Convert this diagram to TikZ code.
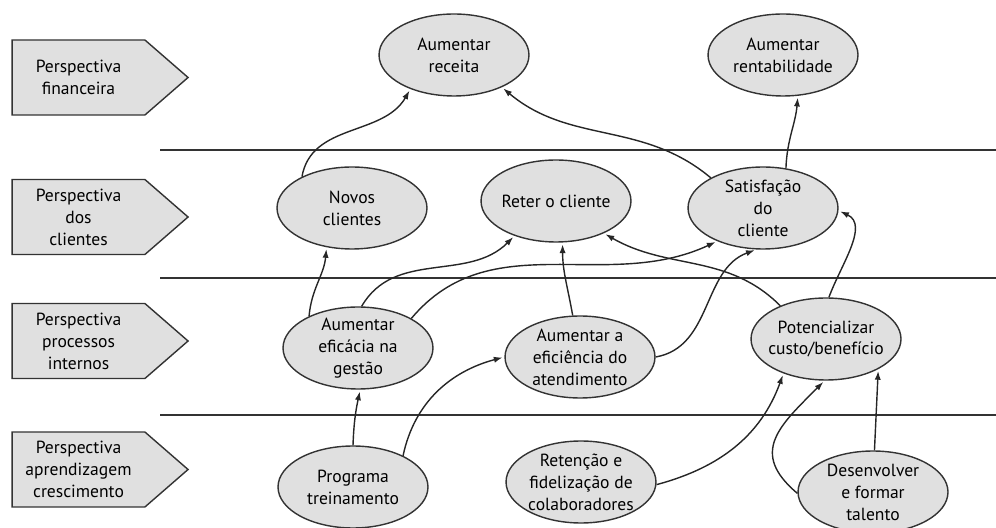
\documentclass[tikz,border=0pt]{standalone}
\usepackage{fontspec}
\setmainfont{PT Sans}
\usepackage{tikz}
\usetikzlibrary{arrows.meta,shapes.geometric,shapes.symbols}

\begin{document}
\begin{tikzpicture}[x=0.02cm,y=0.02cm,
  every node/.style={font=\fontsize{10}{12.5}\selectfont, align=center},
  persp/.style={signal, signal to=east, signal pointer angle=82, draw=black!80, fill=black!12,
    line width=0.8pt, minimum width=3.52cm, minimum height=1.5cm, inner sep=0pt},
  obj/.style={ellipse, draw=black!80, fill=black!12, line width=0.8pt,
    minimum width=3cm, minimum height=1.64cm, inner xsep=-8pt, inner ysep=-8pt},
  link/.style={-{Latex[length=5pt,width=3.5pt]}, line width=0.8pt, black!85, shorten >=1pt},
  sep/.style={line width=1pt, black!80}]
\useasboundingbox (0,0) rectangle (996,527);

\node[persp] (fin) at (78.5,449.5) {Perspectiva\\financeira};
\node[persp] (cli) at (78.5,310) {Perspectiva\\dos\\clientes};
\node[persp] (proc) at (78.5,186) {Perspectiva\\processos\\internos};
\node[persp] (apr) at (78.5,57.5) {Perspectiva\\aprendizagem\\crescimento};

\draw[sep] (160,377) -- (996,377);
\draw[sep] (160,249) -- (996,249);
\draw[sep] (160,112) -- (996,112);

\node[obj] (receita) at (454,472) {Aumentar\\receita};
\node[obj] (rentab) at (783,472) {Aumentar\\rentabilidade};
\node[obj] (novos) at (352,319) {Novos\\clientes};
\node[obj] (reter) at (556,326) {Reter o cliente};
\node[obj] (satisf) at (763,319) {Satisfação\\do\\cliente};
\node[obj] (eficacia) at (358,179) {Aumentar\\eficácia na\\gestão};
\node[obj] (eficiencia) at (580,170) {Aumentar a\\eficiência do\\atendimento};
\node[obj] (custo) at (826,188) {Potencializar\\custo/benefício};
\node[obj] (programa) at (353,40) {Programa\\treinamento};
\node[obj] (retencao) at (581,45) {Retenção e\\fidelização de\\colaboradores};
\node[obj] (talento) at (873,35) {Desenvolver\\e formar\\talento};

\draw[link] (novos.148) to[out=80,in=240] (receita.218);
\draw[link] (satisf.150) to[out=140,in=-40] (receita.326);
\draw[link] (satisf.60) to[out=88,in=265] (rentab.290);
\draw[link] (eficacia.147) to[out=85,in=265] (novos.237);
\draw[link] (eficacia.85) to[out=60,in=225] (reter.220);
\draw[link] (eficacia.29) to[out=50,in=205] (satisf.216);
\draw[link] (eficiencia.100) to[out=100,in=270] (reter.279);
\draw[link] (eficiencia.0) to[out=10,in=200] (satisf.261);
\draw[link] (custo.144) to[out=135,in=-30] (reter.326);
\draw[link] (custo.86) to[out=70,in=-25] (satisf.-2);
\draw[link] (programa.90) to[out=88,in=258] (eficacia.273);
\draw[link] (programa.32) to[out=78,in=195] (eficiencia.180);
\draw[link] (retencao.-2) to[out=15,in=250] (custo.219);
\draw[link] (talento.181) to[out=140,in=225,looseness=1.4] (custo.268);
\draw[link] (talento.88) -- (custo.330);
\end{tikzpicture}
\end{document}
